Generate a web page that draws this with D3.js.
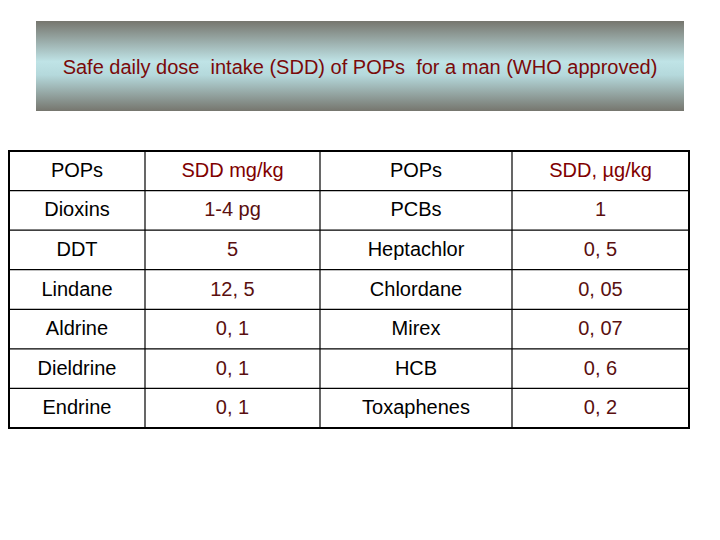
<!doctype html>
<html>
<head>
<meta charset="utf-8"/>
<script src="https://d3js.org/d3.v7.min.js"></script>
<style>body{margin:0;background:#fff}</style>
</head>
<body>
<script>
var title = "Safe daily dose  intake (SDD) of POPs  for a man (WHO approved)";
var headers = ["POPs", "SDD mg/kg", "POPs", "SDD, \u00b5g/kg"];
var pops1 = ["Dioxins", "DDT", "Lindane", "Aldrine", "Dieldrine", "Endrine"];
var sdd1 = ["1-4 pg", "5", "12, 5", "0, 1", "0, 1", "0, 1"];
var pops2 = ["PCBs", "Heptachlor", "Chlordane", "Mirex", "HCB", "Toxaphenes"];
var sdd2 = ["1", "0, 5", "0, 05", "0, 07", "0, 6", "0, 2"];

var svg = d3.select("body").append("svg").attr("width", 720).attr("height", 540);

// banner
var grad = svg.append("defs").append("linearGradient").attr("id", "g")
  .attr("x1", 0).attr("y1", 0).attr("x2", 0).attr("y2", 1);
grad.append("stop").attr("offset", "0%").attr("stop-color", "#76766e");
grad.append("stop").attr("offset", "45%").attr("stop-color", "#bfe3e6");
grad.append("stop").attr("offset", "60%").attr("stop-color", "#b5d9dc");
grad.append("stop").attr("offset", "100%").attr("stop-color", "#76766e");
svg.append("rect").attr("x", 36).attr("y", 21).attr("width", 648).attr("height", 90).attr("fill", "url(#g)");
svg.append("text").attr("x", 360).attr("y", 74).attr("text-anchor", "middle")
  .attr("font-family", "Liberation Sans, Arial").attr("font-size", 20).attr("fill", "#7a0a0a")
  .style("white-space", "pre").text(title);

// table
var colEdges = [9, 145, 320, 512, 689];
var rowsData = [headers].concat(pops1.map(function(p, i){ return [p, sdd1[i], pops2[i], sdd2[i]]; }));
var y = d3.scaleBand().domain(d3.range(rowsData.length)).range([151, 428]);
var colors = ["#000", "#5a0f0f", "#000", "#5a0f0f"];
var hcolors = ["#000", "#800000", "#000", "#800000"];

rowsData.forEach(function(row, r){
  row.forEach(function(v, c){
    svg.append("text")
      .attr("x", (colEdges[c] + colEdges[c+1]) / 2)
      .attr("y", y(r) + y.bandwidth() / 2 + 6)
      .attr("text-anchor", "middle")
      .attr("font-family", "Liberation Sans, Arial").attr("font-size", 20)
      .attr("fill", r === 0 ? hcolors[c] : colors[c])
      .text(v);
  });
});
for (var r = 1; r < rowsData.length; r++) {
  svg.append("line").attr("x1", 9).attr("x2", 689).attr("y1", y(r)).attr("y2", y(r))
    .attr("stroke", "#000").attr("stroke-width", 1.2);
}
colEdges.slice(1, 4).forEach(function(cx){
  svg.append("line").attr("x1", cx).attr("x2", cx).attr("y1", 151).attr("y2", 428)
    .attr("stroke", "#000").attr("stroke-width", 1.2);
});
svg.append("rect").attr("x", 9).attr("y", 151).attr("width", 680).attr("height", 277)
  .attr("fill", "none").attr("stroke", "#000").attr("stroke-width", 2);
</script>
</body>
</html>
